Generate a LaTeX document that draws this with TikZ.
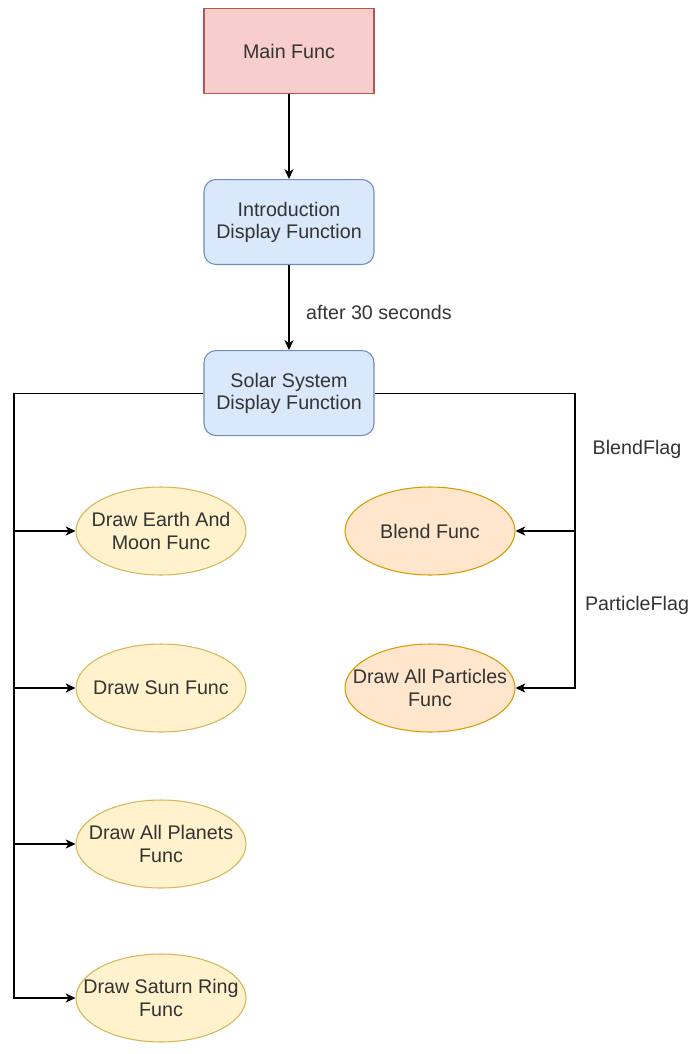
\documentclass[tikz,border=0pt]{standalone}
\usepackage{fontspec}
\setmainfont{Liberation Sans}
\usetikzlibrary{positioning}
\usetikzlibrary{arrows.meta}
\usetikzlibrary{shapes.geometric}

\definecolor{mainfill}{HTML}{F8CECC}
\definecolor{maindraw}{HTML}{B85450}
\definecolor{dispfill}{HTML}{DAE8FC}
\definecolor{dispdraw}{HTML}{6C8EBF}
\definecolor{drawfill}{HTML}{FFF2CC}
\definecolor{drawdraw}{HTML}{D6B656}
\definecolor{flagfill}{HTML}{FFE6CC}
\definecolor{flagdraw}{HTML}{D79B00}
\definecolor{txt}{HTML}{333333}

\begin{document}
\begin{tikzpicture}[
    x=0.02cm, y=-0.02cm,
    font=\fontsize{11.2}{12.6}\selectfont,
    text=txt,
    node distance=1.7cm,
    mainbox/.style={
        draw=maindraw,
        fill=mainfill,
        line width=0.6pt,
        align=center,
        minimum width=3.4cm,
        minimum height=1.7cm,
    },
    dispbox/.style={
        draw=dispdraw,
        fill=dispfill,
        line width=0.6pt,
        rounded corners=0.24cm,
        align=center,
        minimum width=3.4cm,
        minimum height=1.7cm,
    },
    drawfunc/.style={
        ellipse,
        draw=drawdraw,
        fill=drawfill,
        line width=0.6pt,
        align=center,
        inner xsep=-0.6cm,
        inner ysep=-0.3cm,
        minimum width=3.4cm,
        minimum height=1.76cm,
    },
    flagfunc/.style={
        drawfunc,
        draw=flagdraw,
        fill=flagfill,
    },
    flow/.style={draw, line width=0.6pt, -{Stealth[length=5.6pt, width=5.2pt, inset=1.6pt]}},
    label/.style={inner sep=0pt}
]
\useasboundingbox (0,0) rectangle (693,1054);

\node[mainbox] (main) at (289,51) {Main Func};
\node[dispbox, below=of main] (intro) {Introduction\\Display Function};
\node[dispbox, below=of intro] (solar) {Solar System\\Display Function};

\node[drawfunc] (earth) at (161,531) {Draw Earth And\\Moon Func};
\node[drawfunc] (sun) at (161,688) {Draw Sun Func};
\node[drawfunc] (planets) at (161,844) {Draw All Planets\\Func};
\node[drawfunc] (saturn) at (161,998) {Draw Saturn Ring\\Func};

\node[flagfunc] (blend) at (430,531) {Blend Func};
\node[flagfunc] (particles) at (430,688) {Draw All Particles\\Func};

\coordinate (lbus) at (14,391);
\coordinate (rbus) at (575,391);

\draw[flow] (main) -- (intro);
\draw[flow] (intro) -- (solar) node[label, midway, right=9.5pt, yshift=-3pt] {after 30 seconds};

% left side
\draw[flow] (solar.west) -- (solar.west -| lbus) |- (earth.west);
\draw[flow] (solar.west -| lbus) |- (sun.west);
\draw[flow] (solar.west -| lbus) |- (planets.west);
\draw[flow] (solar.west -| lbus) |- (saturn.west);

% right side
\draw[flow] (solar.east) -- (solar.east -| rbus) |- (blend.east);
\draw[flow] (solar.east -| rbus) |- (particles.east);

\node[label] (blendflag) at (637,449) {BlendFlag};
\node[label] (particleflag) at (637,605) {ParticleFlag};

\end{tikzpicture}
\end{document}
